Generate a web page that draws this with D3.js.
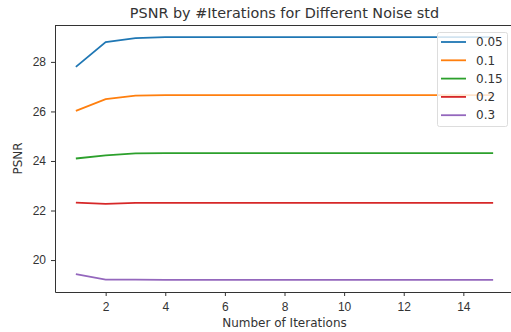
<!DOCTYPE html>
<meta charset="utf-8">
<style>
  body { margin: 0; background: #fff; }
  svg { display: block; font-family: 'DejaVu Sans', sans-serif; }
  .tick text { font-size: 12px; fill: #333; }
  .tick line { stroke: #333; }
  .domain { stroke: #333; }
</style>
<script src="https://d3js.org/d3.v7.min.js"></script>
<div id="chart"></div>
<script>
  // data
  const iterations = [1, 2, 3, 4, 5, 6, 7, 8, 9, 10, 11, 12, 13, 14, 15];
  const noiseLevels = ["0.05", "0.1", "0.15", "0.2", "0.3"];
  const psnr005 = [27.8, 28.8, 28.96, 29.0, 29.0, 29.0, 29.0, 29.0, 29.0, 29.0, 29.0, 29.0, 29.0, 29.0, 29.0];
  const psnr01  = [26.02, 26.5, 26.64, 26.66, 26.66, 26.66, 26.66, 26.66, 26.66, 26.66, 26.66, 26.66, 26.66, 26.66, 26.66];
  const psnr015 = [24.1, 24.23, 24.31, 24.32, 24.32, 24.32, 24.32, 24.32, 24.32, 24.32, 24.32, 24.32, 24.32, 24.32, 24.32];
  const psnr02  = [22.32, 22.27, 22.31, 22.31, 22.31, 22.31, 22.31, 22.31, 22.31, 22.31, 22.31, 22.31, 22.31, 22.31, 22.31];
  const psnr03  = [19.43, 19.21, 19.21, 19.2, 19.2, 19.2, 19.2, 19.2, 19.2, 19.2, 19.2, 19.2, 19.2, 19.2, 19.2];
  const xTicks = [2, 4, 6, 8, 10, 12, 14];
  const yTicks = [20, 22, 24, 26, 28];
  const colors = ["#1f77b4", "#ff7f0e", "#2ca02c", "#d62728", "#9467bd"];

  const series = [psnr005, psnr01, psnr015, psnr02, psnr03];

  const W = 511, H = 332;
  const margin = {top: 25, right: -3, bottom: 40, left: 55};
  const width = W - margin.left - margin.right,
        height = H - margin.top - margin.bottom;

  const svg = d3.select("#chart").append("svg")
      .attr("width", W).attr("height", H);
  const g = svg.append("g")
      .attr("transform", `translate(${margin.left},${margin.top})`);

  // matplotlib-style 5% margins
  const x = d3.scaleLinear().domain([0.3, 15.7]).range([0, width]);
  const y = d3.scaleLinear().domain([18.71, 29.49]).range([height, 0]);

  g.append("g").attr("class", "x")
      .attr("transform", `translate(0,${height})`)
      .call(d3.axisBottom(x).tickValues(xTicks).tickSize(4).tickSizeOuter(0).tickPadding(6));
  g.append("g").attr("class", "y")
      .call(d3.axisLeft(y).tickValues(yTicks).tickSize(4).tickSizeOuter(0).tickPadding(5));

  // top and right spines
  g.append("line").attr("x1", 0).attr("x2", width).attr("y1", 0.5).attr("y2", 0.5)
      .attr("stroke", "#333");
  g.append("line").attr("x1", width - 0.5).attr("x2", width - 0.5).attr("y1", 0).attr("y2", height)
      .attr("stroke", "#333");

  const line = d3.line()
      .x((d, i) => x(iterations[i]))
      .y(d => y(d));

  series.forEach((s, i) => {
    g.append("path")
      .datum(s)
      .attr("fill", "none")
      .attr("stroke", colors[i])
      .attr("stroke-width", 1.8)
      .attr("d", line);
  });

  // legend
  const leg = svg.append("g").attr("transform", "translate(437,32)");
  leg.append("rect")
      .attr("x", 0.5).attr("y", 0.5).attr("width", 70).attr("height", 94).attr("rx", 2)
      .attr("fill", "rgba(255,255,255,0.8)").attr("stroke", "#ddd");
  noiseLevels.forEach((n, i) => {
    const yy = 10 + i * 18.3;
    leg.append("line").attr("x1", 4).attr("x2", 29).attr("y1", yy).attr("y2", yy)
        .attr("stroke", colors[i]).attr("stroke-width", 1.8);
    leg.append("text").attr("x", 39).attr("y", yy).attr("dy", "0.35em")
        .attr("font-size", 12).attr("fill", "#333").text(n);
  });

  // title and axis labels
  svg.append("text")
      .attr("x", margin.left + width / 2).attr("y", 18)
      .attr("text-anchor", "middle").attr("font-size", 14.4).attr("fill", "#333")
      .text("PSNR by #Iterations for Different Noise std");
  svg.append("text")
      .attr("x", margin.left + width / 2).attr("y", 327)
      .attr("text-anchor", "middle").attr("font-size", 12).attr("fill", "#333")
      .text("Number of Iterations");
  svg.append("text")
      .attr("transform", `translate(22,${margin.top + height / 2}) rotate(-90)`)
      .attr("text-anchor", "middle").attr("font-size", 12).attr("fill", "#333")
      .text("PSNR");
</script>
